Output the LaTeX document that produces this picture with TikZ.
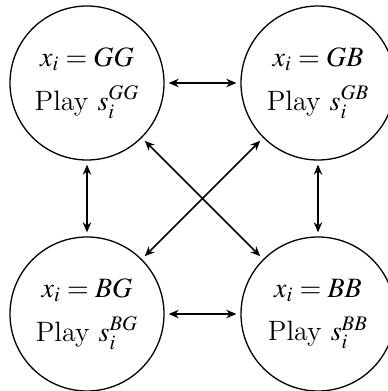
\documentclass[tikz,border=0pt]{standalone}
\usepackage{mathptmx}
\usetikzlibrary{arrows.meta}
\begin{document}
\begin{tikzpicture}[x=0.5pt,y=-0.5pt,
  state/.style={circle, draw, line width=0.65pt, minimum size=77pt, inner sep=0pt,
    align=center, font=\fontsize{14}{16.8}\selectfont},
  link/.style={{Stealth[length=5pt,width=4.2pt]}-{Stealth[length=5pt,width=4.2pt]},
    line width=0.8pt, shorten >=2pt, shorten <=2pt}]
\useasboundingbox (0,0) rectangle (387,391);
\node[state] (gg) at (87,83) {$x_i = GG$\\[5pt]Play $s_i^{GG}$};
\node[state] (gb) at (318,83) {$x_i = GB$\\[5pt]Play $s_i^{GB}$};
\node[state] (bg) at (87,314) {$x_i = BG$\\[5pt]Play $s_i^{BG}$};
\node[state] (bb) at (318,314) {$x_i = BB$\\[5pt]Play $s_i^{BB}$};
\draw[link] (gg) -- (gb);
\draw[link] (bg) -- (bb);
\draw[link] (gg) -- (bg);
\draw[link] (gb) -- (bb);
\draw[link] (gg) -- (bb);
\draw[link] (gb) -- (bg);
\end{tikzpicture}
\end{document}
